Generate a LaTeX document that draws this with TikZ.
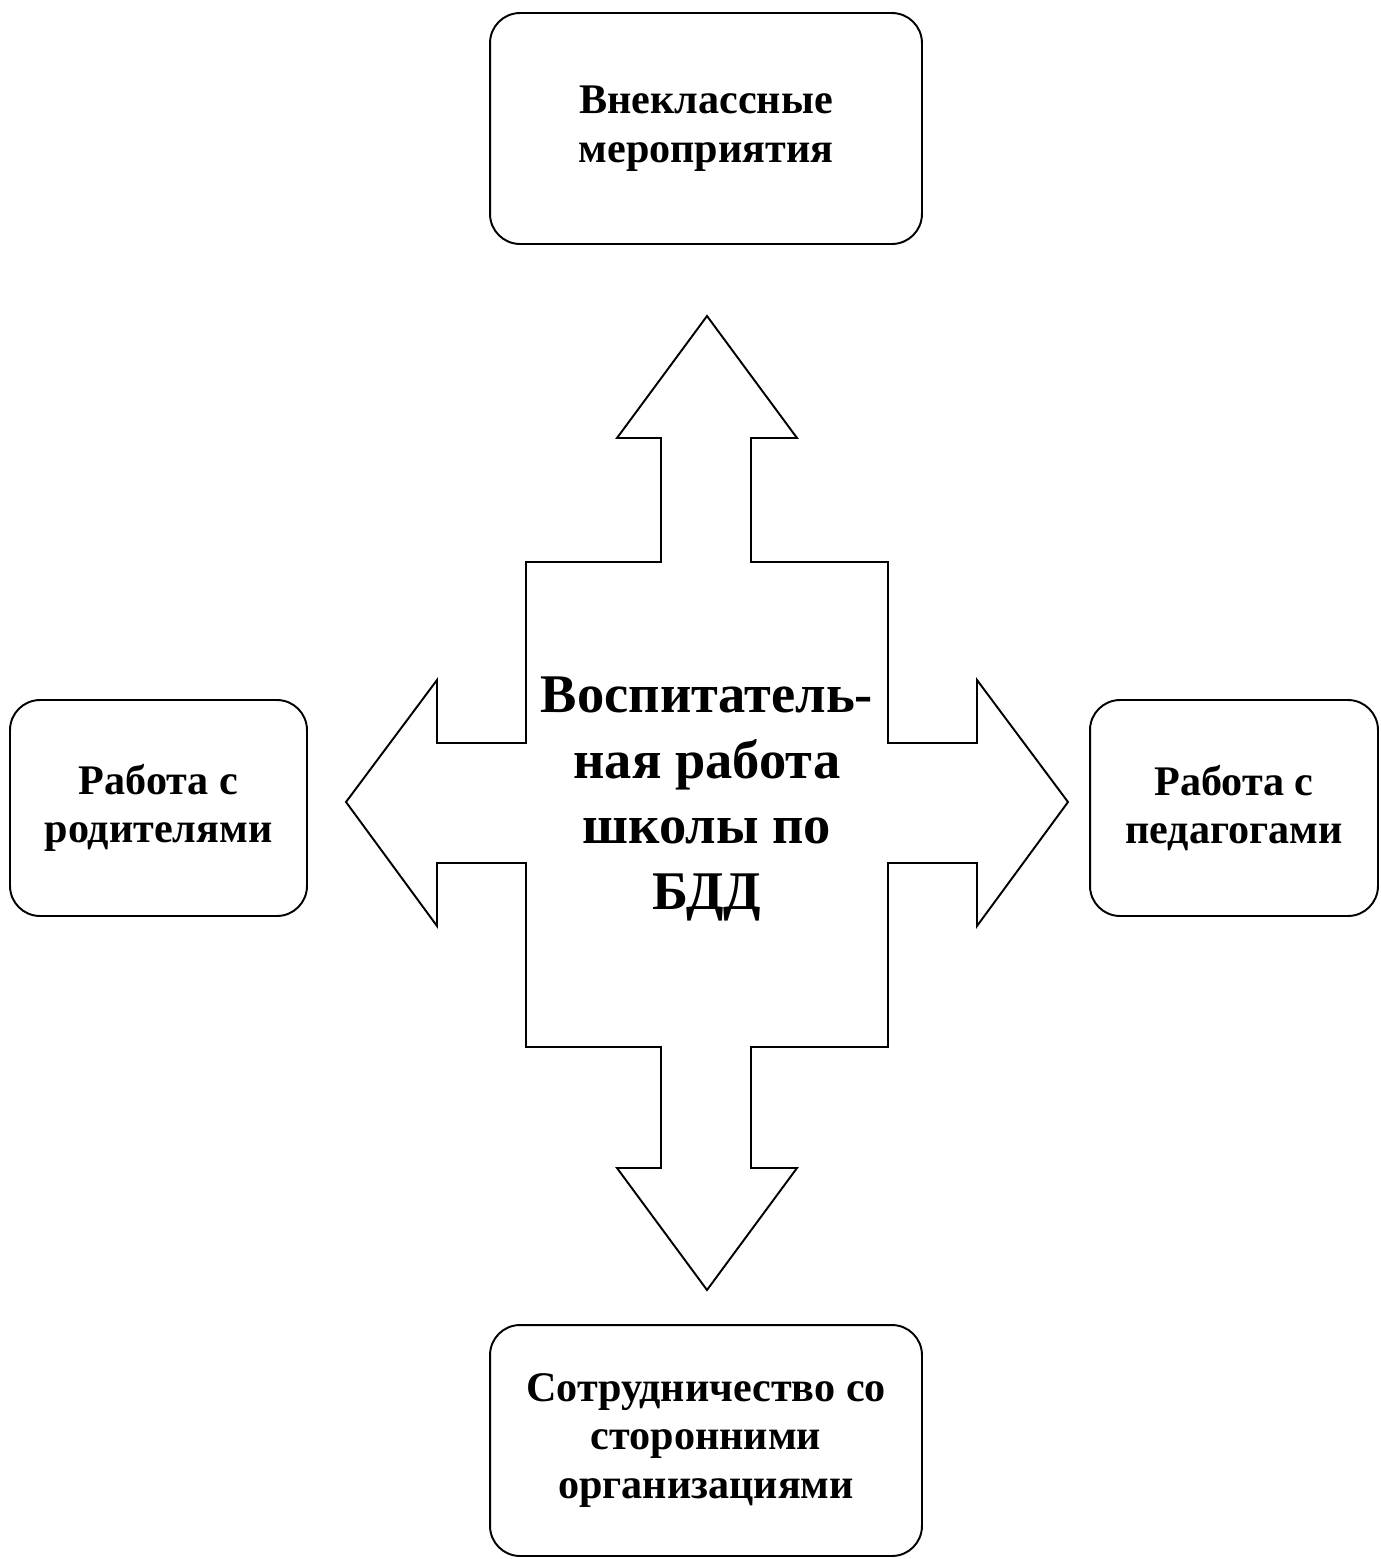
\documentclass[tikz,border=0pt]{standalone}
\usepackage{fontspec}
\setmainfont{Liberation Serif}
\usepackage{tikz}
\tikzstyle{bdbox} = [draw=black, line width=1.1pt, rectangle, rounded corners=0.6cm, align=center, font=\bfseries\fontsize{24}{27.6}\selectfont, inner sep=0pt]

\begin{document}
\begin{tikzpicture}[x=0.02cm, y=-0.02cm]
    \useasboundingbox (0,0) rectangle (1381,1559);
    % big cross-shaped double arrow
    \draw [line width=1.1pt, line join=miter]
        (707,316) -- (797,438) -- (751,438) -- (751,562) -- (888,562) -- (888,743)
        -- (977,743) -- (977,680) -- (1068,802) -- (977,926) -- (977,863) -- (888,863)
        -- (888,1047) -- (751,1047) -- (751,1168) -- (797,1168) -- (707,1290)
        -- (617,1168) -- (661,1168) -- (661,1047) -- (526,1047) -- (526,863)
        -- (437,863) -- (437,926) -- (346,802) -- (437,680) -- (437,743) -- (526,743)
        -- (526,562) -- (661,562) -- (661,438) -- (617,438) -- cycle;
    \node [align=center, font=\bfseries\fontsize{31}{37.5}\selectfont] (center) at (707,799)
        {Воспитатель-\\ная работа\\школы по\\БДД};
    % boxes
    \node [bdbox, minimum width=8.64cm, minimum height=4.62cm] (top) at (706,128.5)
        {Внеклассные\\мероприятия};
    \node [bdbox, minimum width=5.94cm, minimum height=4.32cm] (left) at (158.5,808)
        {Работа с\\родителями};
    \node [bdbox, minimum width=5.76cm, minimum height=4.32cm] (right) at (1234,808)
        {Работа с\\педагогами};
    \node [bdbox, minimum width=8.64cm, minimum height=4.62cm] (bottom) at (706,1440.5)
        {Сотрудничество со\\сторонними\\организациями};
\end{tikzpicture}
\end{document}
